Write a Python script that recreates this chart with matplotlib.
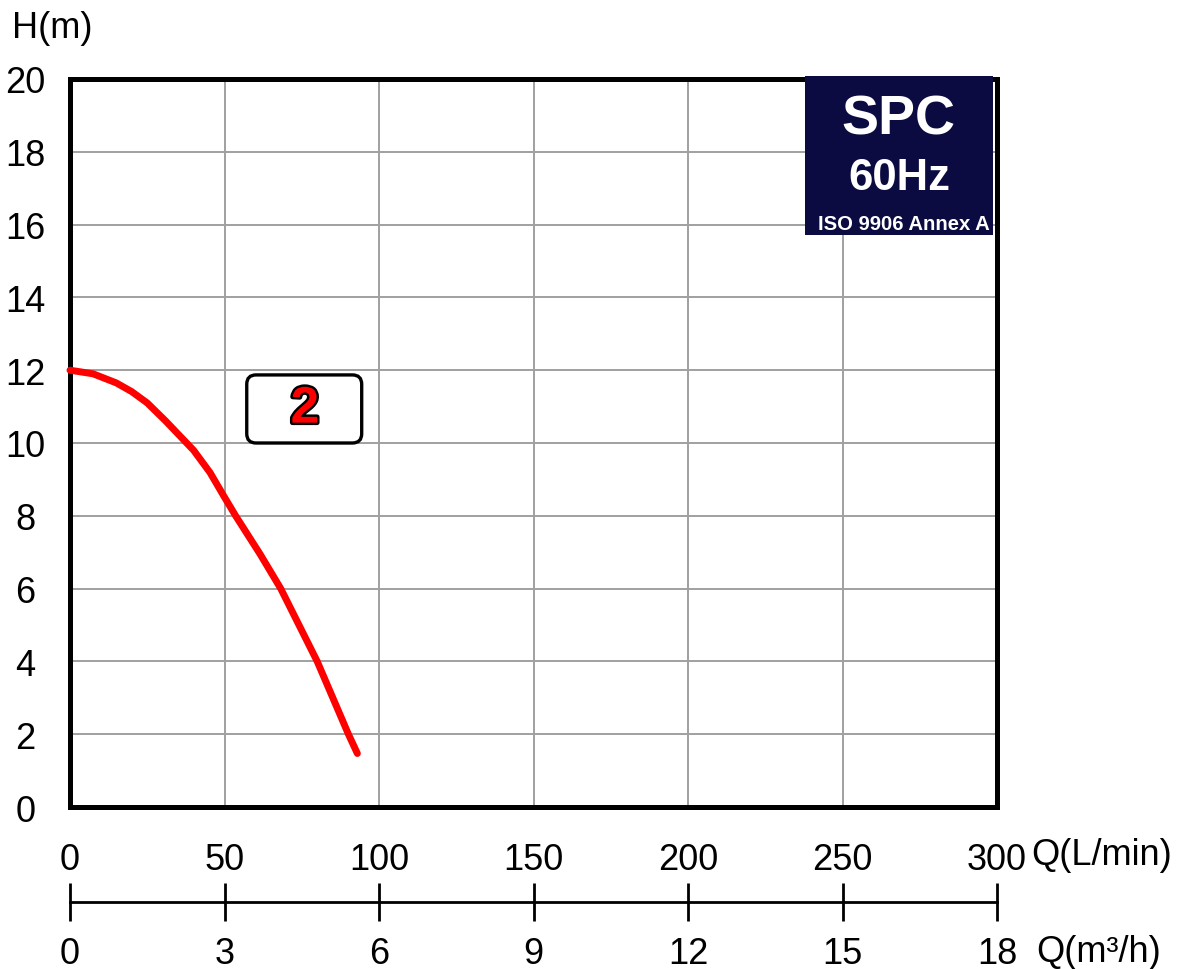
import matplotlib
matplotlib.use("Agg")
import matplotlib.pyplot as plt
from matplotlib import font_manager
from matplotlib.patches import Rectangle, FancyBboxPatch
import matplotlib.patheffects as pe

# [데이터] ------------------------------------
q_lmin = [0, 7.5, 15, 20, 25, 31, 40, 45.3, 50, 53.6, 61.5, 68.2, 80.0, 90.1, 93.0]
h_m = [12.0, 11.9, 11.65, 11.41, 11.1, 10.6, 9.8, 9.19, 8.51, 8.0, 6.95, 6.0, 4.0, 2.0, 1.47]

x_ticks = [0, 50, 100, 150, 200, 250, 300]
y_ticks = [0, 2, 4, 6, 8, 10, 12, 14, 16, 18, 20]
m3h_ticks = [0, 3, 6, 9, 12, 15, 18]

curve_label = "2"
badge_lines = ["SPC", "60Hz", "ISO 9906 Annex A"]

# [폰트] ------------------------------------
plt.rcParams['font.family'] = ['Liberation Sans', 'DejaVu Sans']
names = {f.name for f in font_manager.fontManager.ttflist}
narrow = 'Liberation Sans Narrow' if 'Liberation Sans Narrow' in names else 'Liberation Sans'

W, H = 1189, 970
fig = plt.figure(figsize=(W / 100, H / 100), dpi=100)
ax = fig.add_axes([70 / W, 1 - 808 / H, (997 - 70) / W, (808 - 80) / H])

ax.set_xlim(0, 300)
ax.set_ylim(0, 20)

# 그리드
ax.set_xticks(x_ticks)
ax.set_yticks(y_ticks)
ax.grid(True, color='#a0a0a0', linewidth=1.4, zorder=0)
ax.set_axisbelow(True)

for s in ax.spines.values():
    s.set_linewidth(3.6)
    s.set_color('black')

ax.tick_params(axis='x', length=0, pad=25, labelsize=26)
ax.tick_params(axis='y', length=0, pad=32, labelsize=26)
for lab in ax.get_yticklabels():
    lab.set_horizontalalignment('center')

# 곡선
ax.plot(q_lmin, h_m, color='#ff0000', linewidth=5.0, solid_capstyle='round',
        solid_joinstyle='round', zorder=4, clip_on=False)

# 곡선 번호 박스
px_q = 927 / 300
px_h = 728 / 20
box = FancyBboxPatch((57.2, 10.0), 94.4 - 57.2, 11.87 - 10.0,
                     boxstyle="round,pad=0,rounding_size=3",
                     mutation_aspect=px_q / px_h,
                     facecolor='white', edgecolor='black', linewidth=2.4, zorder=5)
ax.add_patch(box)
ax.text(76.0, 10.93, curve_label, color='#ff0000', fontsize=37, fontweight='bold',
        ha='center', va='center', zorder=6,
        path_effects=[pe.withStroke(linewidth=3.5, foreground='black')])

# SPC 박스
spc = Rectangle((237.9, 15.71), 298.7 - 237.9, 20.09 - 15.71, facecolor='#0b0b42',
                edgecolor='none', zorder=3, clip_on=False)
ax.add_patch(spc)
t1 = ax.text(268.0, 18.49, badge_lines[0], color='white', fontsize=40, fontweight='bold',
             ha='center', va='baseline', zorder=4)
t2 = ax.text(268.3, 16.98, badge_lines[1], color='white', fontsize=35, fontweight='bold',
             family=narrow, ha='center', va='baseline', zorder=4)
t3 = ax.text(269.9, 15.88, badge_lines[2], color='white', fontsize=18, fontweight='bold',
             family=narrow, ha='center', va='baseline', zorder=4)

# 글자 폭 맞추기 (좁은 글꼴이 없을 때)
renderer = fig.canvas.get_renderer()
for t, target in [(t2, 102), (t3, 172)]:
    w = t.get_window_extent(renderer=renderer).width
    if w > target:
        t.set_fontsize(t.get_fontsize() * target / w)

# 두번째 x축 (m3/h)
sec = ax.secondary_xaxis(-95 / 728, functions=(lambda q: q * 0.06, lambda m: m / 0.06))
sec.set_xticks(m3h_ticks)
sec.spines['bottom'].set_linewidth(2.0)
sec.tick_params(axis='x', direction='inout', length=27, width=2.0, pad=11, labelsize=26)

# 축 제목
fig.text(12 / W, 1 - 28 / H, "H(m)", fontsize=26, ha='left', va='center')
fig.text(1031 / W, 1 - 856 / H, "Q(L/min)", fontsize=26, ha='left', va='center')
fig.text(1036 / W, 1 - 953 / H, "Q(m³/h)", fontsize=26, ha='left', va='center')

fig.savefig("out.png", dpi=100)
